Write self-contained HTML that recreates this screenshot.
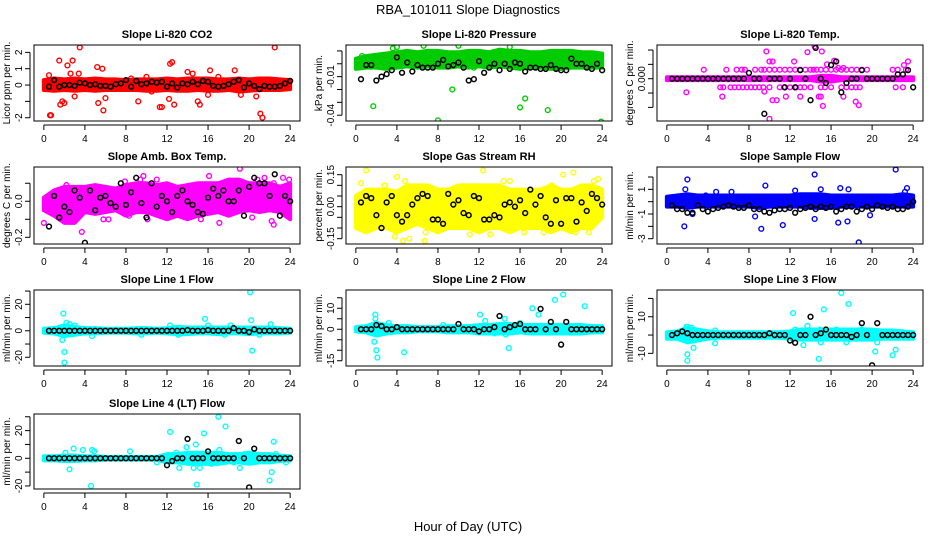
<!DOCTYPE html>
<html><head><meta charset="utf-8"><style>
html,body{margin:0;padding:0;background:#fff;}
svg{display:block;font-family:"Liberation Sans",sans-serif;}
</style></head><body>
<svg id="c" width="936" height="540" viewBox="0 0 936 540" xmlns="http://www.w3.org/2000/svg">
<text x="468" y="14" font-size="13" text-anchor="middle">RBA_101011  Slope Diagnostics</text>
<text x="468" y="531" font-size="13" text-anchor="middle">Hour of Day (UTC)</text>
</svg>
<script>
const bandHours=[0,1,2,3,4,5,6,7,8,9,10,11,12,13,14,15,16,17,18,19,20,21,22,23,24];
const blackHours=[0.5,1,1.5,2,2.5,3,3.5,4,4.5,5,5.5,6,6.5,7,7.5,8,8.5,9,9.5,10,10.5,11,11.5,12,12.5,13,13.5,14,14.5,15,15.5,16,16.5,17,17.5,18,18.5,19,19.5,20,20.5,21,21.5,22,22.5,23,23.5,24];
const xTicks=[0,4,8,12,16,20,24];

// CO2
const co2Lo=[-0.3,-0.35,-0.3,-0.35,-0.3,-0.35,-0.3,-0.3,-0.3,-0.3,-0.35,-0.35,-0.3,-0.35,-0.35,-0.3,-0.35,-0.35,-0.3,-0.4,-0.35,-0.3,-0.3,-0.3,-0.25];
const co2Hi=[0.3,0.4,0.35,0.4,0.35,0.4,0.35,0.35,0.3,0.35,0.35,0.35,0.4,0.35,0.4,0.4,0.4,0.35,0.35,0.4,0.35,0.4,0.4,0.35,0.3];
const co2OutX=[0.6,0.7,0.5,1.5,1.6,1.8,2,2.3,2.6,2.8,3,3.4,3.5,5.2,5.3,5.7,5.8,6,9.2,10,11.3,11.5,12.3,12.5,12.2,12.7,14,14.5,15,15.2,16.2,16,18.6,19.2,21.1,21.3,22.5,20.7,8.5,17,10.5];
const co2OutY=[-1.85,-1.85,0.6,1.5,-1.2,-1.0,-1.1,1.2,0.7,1.5,-0.7,0.7,2.3,1.1,-1.1,1.0,-1.55,-0.8,-1.0,0.5,-1.35,-1.35,1.3,1.4,-0.85,-1.2,0.8,0.7,-1.0,-1.2,0.9,-0.6,0.9,-0.6,-1.75,-2.0,2.3,-0.7,0.4,0.5,-0.4];
const co2Black=[-0.1,0.3,-0.1,0,0,-0.05,0.15,0.1,0,0.05,-0.05,-0.05,-0.1,0.05,0.1,0.3,-0.1,0.25,0.05,0.1,0.2,0.15,0.2,-0.1,0.1,-0.15,0.1,0.05,0.2,0.05,0.25,0.2,-0.05,-0.1,-0.05,0.05,0.2,0.3,-0.15,0.1,-0.05,-0.25,-0.05,-0.1,-0.1,-0.05,0.1,0.25];
// Pressure
const presLo=[-0.004,-0.003,-0.003,-0.004,-0.003,-0.002,-0.003,-0.002,-0.003,-0.003,-0.002,-0.003,-0.002,-0.003,-0.002,-0.003,-0.004,-0.003,-0.003,-0.004,-0.004,-0.003,-0.003,-0.003,-0.003];
const presHi=[0.004,0.006,0.007,0.008,0.009,0.01,0.009,0.01,0.01,0.009,0.009,0.01,0.01,0.009,0.011,0.01,0.01,0.009,0.009,0.01,0.01,0.01,0.009,0.009,0.008];
const presOutX=[1.7,8,16,16.5,18.7,23.9,9.4,0.2,4,3.6,6.6,10,15,0.6,11.5];
const presOutY=[-0.033,-0.044,-0.034,-0.027,-0.036,-0.045,-0.02,-0.002,0.013,0.012,0.014,0.014,0.013,0.006,-0.003];
const presBlack=[-0.012,-0.001,-0.001,-0.013,-0.01,-0.008,-0.005,0.005,-0.007,0.001,-0.006,-0.001,-0.003,-0.003,-0.003,0,0.003,-0.002,-0.001,0.001,-0.003,-0.013,-0.012,0.002,-0.007,-0.003,0,-0.005,0,-0.004,0.001,0,-0.006,-0.003,-0.003,-0.004,-0.004,-0.001,-0.004,-0.005,-0.005,0.004,0,0,-0.003,-0.004,0,-0.005];
// Li-820 Temp
const tempLo=[-0.0002,-0.0002,-0.0002,-0.0002,-0.0002,-0.0002,-0.0002,-0.0002,-0.0002,-0.0002,-0.0002,-0.0002,-0.0002,-0.0002,-0.0002,-0.0004,-0.0004,-0.0002,-0.0002,-0.0002,-0.0002,-0.0002,-0.0002,-0.0002,-0.0002];
const tempHi=[0.0002,0.0002,0.0002,0.0002,0.0002,0.0002,0.0002,0.0002,0.0002,0.0002,0.0002,0.0002,0.0002,0.0002,0.0002,0.0004,0.0004,0.0002,0.0002,0.0002,0.0002,0.0002,0.0002,0.0002,0.0002];
const tempOutX=[3.6,5.8,6.8,7.3,7.6,8.6,9.2,9.5,10,10.5,11,11.5,12,12.5,13,13.5,14,14.3,14.6,15,15.5,16,16.5,17,17.5,18,18.5,19,19.5,22,22.5,23.3,5.2,5.5,6.2,6.6,7,7.4,7.8,8.2,8.6,9,9.4,10,11,11.4,12,12.6,13,13.4,14,15,15.4,16,17,17.5,18,18.4,18.8,22.3,23,1.9,5.4,9.7,10,10.3,12.4,13.7,14.4,15.1,15.6,16.3,9.5,10.3,10.7,11.6,13,14.8,15.2,17.2,18.7,18.4,10,23.5,23.1,16.7,17.2,15];
const tempOutY=[0.00125,0.00125,0.00125,0.00125,0.00125,0.00125,0.00125,0.00125,0.00125,0.00125,0.00125,0.00125,0.00125,0.00125,0.00125,0.00125,0.00125,0.00125,0.00125,0.00125,0.00125,0.00125,0.00125,0.00125,0.00125,0.00125,0.00125,0.00125,0.00125,0.00125,0.00125,0.00125,-0.0012,-0.0012,-0.0012,-0.0012,-0.0012,-0.0012,-0.0012,-0.0012,-0.0012,-0.0012,-0.0012,-0.0012,-0.0012,-0.0012,-0.0012,-0.0012,-0.0012,-0.0012,-0.0012,-0.0012,-0.0012,-0.0012,-0.0012,-0.0012,-0.0012,-0.0012,-0.0012,-0.0012,-0.0012,-0.0019,-0.0025,0.0038,0.0024,0.0024,0.0024,0.0037,0.0045,0.0038,0.002,0.0025,-0.0018,-0.003,-0.003,-0.0025,-0.0025,-0.0025,-0.0038,-0.0025,-0.0037,-0.0032,-0.0056,0.0024,0.0019,0.0015,0.0015,-0.0025];
const tempBlack=[0,0,0,0,0,0,0,0,0,0,0,0,0,0,0,0.0008,0,0,-0.0049,0,0,0,-0.0012,0,-0.0012,0.0012,0,-0.003,0.0043,0,-0.0006,0.0019,0.0024,-0.0019,-0.0006,0,0,0.0012,0,0,0,0,0,0,0.0006,0.0006,0.0012,-0.0012];
// Amb box temp
const ambLo=[-0.05,-0.08,-0.12,-0.12,-0.06,-0.07,-0.06,-0.05,-0.08,-0.06,-0.06,-0.08,-0.1,-0.08,-0.1,-0.08,-0.07,-0.06,-0.08,-0.06,-0.05,-0.06,-0.05,-0.06,-0.1];
const ambHi=[0.02,0.06,0.08,0.08,0.08,0.09,0.08,0.07,0.09,0.1,0.1,0.09,0.1,0.08,0.09,0.1,0.1,0.1,0.12,0.12,0.1,0.1,0.1,0.08,0.1];
const ambOutX=[0,3.7,2.2,7.9,9.7,9.4,5.8,6.3,8.3,10.1,11,12.5,14,15.3,16.1,17.1,19.1,20.3,20.8,21.5,22.4,22.2,22.4,23.3,23.9,23.6];
const ambOutY=[-0.12,-0.17,0.09,0.11,0.14,0.12,-0.1,-0.1,-0.08,-0.1,0.12,-0.08,-0.08,-0.1,0.14,-0.12,0.18,-0.09,0.12,0.13,0.1,-0.11,-0.13,0.13,0.12,-0.07];
const ambBlack=[-0.14,0.03,-0.09,-0.03,-0.06,0.06,0.02,-0.23,0.06,-0.05,0.02,0.03,-0.01,-0.03,0.1,-0.02,0.05,0.13,-0.01,-0.09,0.1,-0.03,0.03,0,-0.06,0.03,0.06,0,-0.02,-0.06,-0.07,0.02,0.07,0.03,0.06,0,0,0.06,-0.08,0.08,0.13,0.1,0.1,0.03,0.15,-0.08,0.03,0];
// Gas stream RH
const rhLo=[-0.1,-0.12,-0.1,-0.1,-0.12,-0.1,-0.08,-0.1,-0.12,-0.1,-0.1,-0.1,-0.12,-0.1,-0.1,-0.12,-0.1,-0.1,-0.1,-0.12,-0.1,-0.12,-0.1,-0.1,-0.05];
const rhHi=[0.05,0.08,0.08,0.08,0.07,0.1,0.1,0.1,0.08,0.08,0.1,0.1,0.1,0.1,0.1,0.08,0.08,0.08,0.08,0.1,0.08,0.08,0.1,0.1,0.08];
const rhOutX=[1,0.5,4,4.8,3.8,4.6,5.2,6.7,6.8,12.4,11.1,13.1,14.4,15,19.1,20.2,21.2,21.4,22.7,23.2,23.6,16.4,18.3,0.2,2.8];
const rhOutY=[0.17,0.11,0.14,0.12,-0.14,-0.16,-0.15,-0.16,-0.12,0.17,-0.13,-0.13,0.12,0.12,0.1,0.15,0.16,-0.12,-0.12,0.12,0.13,-0.12,-0.12,-0.08,0.1];
const rhBlack=[0.02,0.05,0.04,-0.04,-0.1,0.02,0.05,-0.04,-0.07,-0.04,0.01,0.04,0.06,0.05,-0.06,-0.06,-0.08,0.06,0.01,0.03,-0.03,-0.04,0.05,0.04,-0.06,-0.06,-0.04,-0.05,0.01,0.02,0,0.03,-0.03,0.08,0.01,0.05,-0.05,-0.08,0.03,-0.08,0.04,0.04,-0.07,0.02,-0.02,0.06,0.04,0.01];
// Sample flow
const sfLo=[-0.4,-0.4,-0.5,-0.4,-0.4,-0.4,-0.4,-0.4,-0.4,-0.5,-0.4,-0.4,-0.4,-0.4,-0.5,-0.5,-0.5,-0.4,-0.4,-0.4,-0.4,-0.4,-0.4,-0.4,-0.4];
const sfHi=[0.4,0.5,0.6,0.5,0.5,0.5,0.5,0.5,0.5,0.5,0.5,0.5,0.5,0.6,0.6,0.6,0.5,0.5,0.5,0.5,0.5,0.5,0.5,0.6,0.5];
const sfOutX=[1.7,2,1.8,2.5,3.8,4.8,6.3,8.6,9.2,9.6,11.3,12.5,14.4,14.4,15.8,16.7,16.9,17.6,17.7,18.7,19.8,22.3,23.4,23.2,15];
const sfOutY=[-2,1.8,1,-1,0.5,0.8,0.8,-1.2,-2.2,1.3,-1.9,0.9,2.2,-1.4,0.4,-1.7,1.1,-1.6,1,-3.3,-1.1,2.6,1.1,0.8,1];
const sfBlack=[-0.3,-0.6,-0.6,-0.9,-0.9,-0.3,-0.6,-0.8,-0.6,-0.5,-0.4,-0.3,-0.4,-0.5,-0.5,-0.3,-0.6,-0.6,-0.8,-0.9,-0.7,-0.6,-0.6,-0.5,-0.9,-0.6,-0.5,-0.4,-0.6,-0.4,-0.5,-0.4,-0.8,-0.6,-0.4,-0.4,-0.8,-0.6,-0.4,-0.6,-0.3,-0.4,-0.5,-0.4,-0.6,-0.6,-0.4,0];
// Line 1
const l1Lo=[-1.5,-2,-4,-3,-2,-2,-1.5,-1.5,-1.5,-2,-2,-1.5,-2,-2.5,-2.5,-2,-2,-2.5,-2,-2,-2.5,-2,-2,-2,-1.5];
const l1Hi=[1.5,2,4,3,2,2,1.5,1.5,1.5,2,2,1.5,2,3,2.5,2.5,2.5,2.5,2.5,2.5,2.5,2.5,2.5,2,1.5];
const l1OutX=[1.9,1.8,2,2,2.2,2.5,3,4.7,9.5,12.3,13.1,15.7,16,18.2,20.1,20.2,20.3,22.1,17.6,21];
const l1OutY=[13,-7,-16,-24,6,5,4,-4,-3,4,-3,9,4,4,29,8,-15,5,-3,-3];
const l1Black=[0,0,0,0,0,0,0,0,0,0,0,0,0,0,0,0,0,0,0,0,0,0,0,0,0,0,0,0.5,0,0,0,0.5,0,0,0,0,2,0,0,-1,1,0,0,0,0,0,0,0];
// Line 2
const l2Lo=[-1,-1.5,-3,-2,-1.5,-1.5,-1,-1,-1,-1.5,-1.5,-1.5,-2,-2,-2,-2,-1.5,-2,-2,-2,-2,-2,-2,-1.5,-1.5];
const l2Hi=[1,1.5,3,2,1.5,1.5,1,1,1,1.5,1.5,1.5,2,2,2.5,2.5,2,2,2,2,2,2,2,1.5,1.5];
const l2OutX=[1.9,1.9,1.8,2,2.1,3.2,4.7,12.1,12.6,14.5,14.6,14.9,17.2,17.8,19.4,20.2,22.3,16,13.5,8.5];
const l2OutY=[7,5,-6,-10,-13.5,3,-11,7,4,5,-2.5,-9,10,7,14,16.5,11,3,-2,2];
const l2Black=[0,0,0,2,1.5,0,0,1,0,0,0,0,0,0,0,0,0,0,0,2.5,0,0,0,-1,0,0,1,6.3,0,1,2,2.5,0,0,0,9.7,0,3.5,0,-7.3,3.5,0,0,0,0,0,0,0];
// Line 3
const l3Lo=[-2,-2,-4,-3,-2,-1.5,-1.5,-1.5,-1.5,-1.5,-1.5,-1.5,-2,-2.5,-2.5,-2.5,-2.5,-2.5,-2.5,-2.5,-2.5,-2,-2,-2,-2];
const l3Hi=[1.5,2,4,3,2,1.5,1.5,1.5,1.5,1.5,1.5,1.5,2,3,3,3,3,3,3,3,3,2.5,2.5,2,1.5];
const l3OutX=[1.9,2,2.4,2,2,2.6,4.7,4.7,12.3,12.5,13.3,13.7,15.3,14.8,17,17.7,19,20.3,20.5,22,22.3,15,17.5,14.9,16.5];
const l3OutY=[4.5,4.5,4,-10.5,-14,-7,2.5,-4.5,12,3,-5.5,5,14,-13,23,17,3,-9,-4,-11,-8,-4,-4,3,3];
const l3Black=[0,1,2,1,0,0,0,0,0,0,0,0,0,0,0,0,0,0,0,1,0,0,0,-3,-4.2,0,0,10,0,1,3,0,0,0,0,-1,0,6.5,0,-16.5,6.5,0,0,0,0,0,0,0];
// Line 4
const l4Lo=[-1.5,-1.5,-2,-2,-1.5,-1.5,-1,-1,-1,-1,-1,-1,-3,-3,-4,-4,-4,-4,-3,-3,-4,-3,-3,-2,-1.5];
const l4Hi=[1.5,1.5,2,2,1.5,1.5,1,1,1,1,1,1,3,3,4,4,4,4,3,3,4,3,3,2,1.5];
const l4OutX=[2.1,2.5,2.9,3.8,4.6,4.7,4.9,8.4,11,12.3,12.9,13.2,13.9,14.8,14.9,14.6,15.2,15.6,17,16.3,17.1,17.7,18.5,19.1,19.6,22,22.2,22.4,22.6,23.6];
const l4OutY=[4,-8,7,6,-20,6,5,5,-3,19,4,-7,8,10,-19,-7,-7,18,30,-4,6,23,-3,-7,3,-16,-10,12,3,-3];
const l4Black=[0,0,0,0,0,0,0,0,0,0,0,0,0,0,0,0,0,0,0,0,0,0,0,-5,-2,0,0,14,0,0,0,5,0,0,0,0,0,12.5,0,-21,7,0,0,0,0,0,0,0];

const yLabel=[
 {x:34,y:45,t:'Slope Li-820 CO2',col:'#ff0000',yl:'Licor ppm per min.',lo:co2Lo,hi:co2Hi,ox:co2OutX,oy:co2OutY,bk:co2Black,ymin:-2.2,ymax:2.45,ticks:[-2,-1,0,1,2],labs:['-2','','0','1','2'],name:'co2'},
 {x:346,y:45,t:'Slope Li-820 Pressure',col:'#00cc00',yl:'kPa per min.',lo:presLo,hi:presHi,ox:presOutX,oy:presOutY,bk:presBlack,ymin:-0.0445,ymax:0.0146,ticks:[-0.04,-0.03,-0.02,-0.01,0,0.01],labs:['-0.04','','','-0.01','',''],name:'pressure'},
 {x:657,y:45,t:'Slope Li-820 Temp.',col:'#ff00ff',yl:'degrees C per min.',lo:tempLo,hi:tempHi,ox:tempOutX,oy:tempOutY,bk:tempBlack,ymin:-0.0059,ymax:0.0047,ticks:[-0.006,-0.004,-0.002,0,0.002,0.004],labs:['-0.006','','','0.000','',''],name:'li820-temp'},
 {x:34,y:167,t:'Slope Amb. Box Temp.',col:'#ff00ff',yl:'degrees C per min.',lo:ambLo,hi:ambHi,ox:ambOutX,oy:ambOutY,bk:ambBlack,ymin:-0.237,ymax:0.19,ticks:[-0.2,-0.1,0,0.1],labs:['-0.2','','0.0',''],name:'amb-box-temp'},
 {x:346,y:167,t:'Slope Gas Stream RH',col:'#ffff00',yl:'percent per min.',lo:rhLo,hi:rhHi,ox:rhOutX,oy:rhOutY,bk:rhBlack,ymin:-0.175,ymax:0.186,ticks:[-0.15,-0.1,-0.05,0,0.05,0.1,0.15],labs:['-0.15','','','0.00','','','0.15'],name:'gas-stream-rh'},
 {x:657,y:167,t:'Slope Sample Flow',col:'#0000ff',yl:'ml/min per min.',lo:sfLo,hi:sfHi,ox:sfOutX,oy:sfOutY,bk:sfBlack,ymin:-3.43,ymax:2.81,ticks:[-3,-2,-1,0,1,2],labs:['-3','','-1','','1',''],name:'sample-flow'},
 {x:34,y:290,t:'Slope Line 1 Flow',col:'#00ffff',yl:'ml/min per min.',lo:l1Lo,hi:l1Hi,ox:l1OutX,oy:l1OutY,bk:l1Black,ymin:-26.6,ymax:30.8,ticks:[-20,-10,0,10,20,30],labs:['-20','','0','','20',''],name:'line1-flow'},
 {x:346,y:290,t:'Slope Line 2 Flow',col:'#00ffff',yl:'ml/min per min.',lo:l2Lo,hi:l2Hi,ox:l2OutX,oy:l2OutY,bk:l2Black,ymin:-17.5,ymax:18.7,ticks:[-15,-10,-5,0,5,10,15],labs:['-15','','','0','','10',''],name:'line2-flow'},
 {x:657,y:290,t:'Slope Line 3 Flow',col:'#00ffff',yl:'ml/min per min.',lo:l3Lo,hi:l3Hi,ox:l3OutX,oy:l3OutY,bk:l3Black,ymin:-16.9,ymax:24.6,ticks:[-10,0,10,20],labs:['-10','','10',''],name:'line3-flow'},
 {x:34,y:414,t:'Slope Line 4 (LT) Flow',col:'#00ffff',yl:'ml/min per min.',lo:l4Lo,hi:l4Hi,ox:l4OutX,oy:l4OutY,bk:l4Black,ymin:-22.2,ymax:32,ticks:[-20,-10,0,10,20,30],labs:['-20','','0','','20',''],name:'line4-flow'}
];
const svg=document.getElementById('c');
const NS='http://www.w3.org/2000/svg';
function mk(tag,at,parent){const e=document.createElementNS(NS,tag);for(const k in at)e.setAttribute(k,at[k]);(parent||svg).appendChild(e);return e;}
const W=266;
yLabel.forEach(p=>{
  const H=(p.y===414?75:(p.y===290?76:(p.y===167?77:76)));
  const g=mk('g',{});
  
  
  const sx=v=>p.x+(v+0.96)/25.92*W;
  const sy=v=>p.y+H-(v-p.ymin)/(p.ymax-p.ymin)*H;
  const clip='cl'+p.name;
  const cp=mk('clipPath',{id:clip},g);mk('rect',{x:p.x,y:p.y,width:W,height:H},cp);
  const pg=mk('g',{'clip-path':'url(#'+clip+')'},g);
  // band
  let pts=bandHours.map((h,i)=>sx(h)+','+sy(p.hi[i]));
  pts=pts.concat(bandHours.slice().reverse().map((h,j)=>{const i=bandHours.length-1-j;return sx(h)+','+sy(p.lo[i]);}));
  const band=mk('polygon',{points:pts.join(' '),fill:p.col,stroke:p.col,'stroke-width':4,'stroke-linejoin':'round'},pg);
  
  
  p.ox.forEach((h,i)=>{
    const c=mk('circle',{cx:sx(h),cy:sy(p.oy[i]),r:2.4,fill:'none',stroke:p.col,'stroke-width':1.4},pg);
    
    
  });
  blackHours.forEach((h,i)=>{
    const c=mk('circle',{cx:sx(h),cy:sy(p.bk[i]),r:2.4,fill:'none',stroke:'#000','stroke-width':1.5},pg);
    
    
  });
  const box=mk('rect',{x:p.x,y:p.y,width:W,height:H,fill:'none',stroke:'#000','stroke-width':1},g);
  
  
  const tt=mk('text',{x:p.x+W/2,y:p.y-7,'font-size':11,'font-weight':'bold','text-anchor':'middle'},g);
  tt.textContent=p.t;
  
  
  const by=p.y+H;
  mk('line',{x1:sx(0),x2:sx(24),y1:by+4,y2:by+4,stroke:'#000'},g);
  xTicks.forEach(t=>{
    mk('line',{x1:sx(t),x2:sx(t),y1:by+4,y2:by+9,stroke:'#000'},g);
    const lt=mk('text',{x:sx(t),y:by+21,'font-size':10,'text-anchor':'middle'},g);
    lt.textContent=t;
    
    
  });
  const vt=p.ticks.filter(v=>v>=p.ymin-1e-9&&v<=p.ymax+1e-9);
  mk('line',{x1:p.x-4,x2:p.x-4,y1:sy(vt[0]),y2:sy(vt[vt.length-1]),stroke:'#000'},g);
  p.ticks.forEach((t,i)=>{
    if(t<p.ymin-1e-9||t>p.ymax+1e-9)return;
    const yy=sy(t);
    mk('line',{x1:p.x-9,x2:p.x-4,y1:yy,y2:yy,stroke:'#000'},g);
    if(p.labs[i]){
      const lt=mk('text',{x:p.x-12,y:yy,'font-size':10,'text-anchor':'middle',transform:'rotate(-90 '+(p.x-12)+' '+yy+')'},g);
      lt.textContent=p.labs[i];
      
      
    }
  });
  const yl=mk('text',{x:p.x-24,y:p.y+H/2,'font-size':10,'text-anchor':'middle',transform:'rotate(-90 '+(p.x-24)+' '+(p.y+H/2)+')'},g);
  yl.textContent=p.yl;
  
  
});
</script>
</body></html>
